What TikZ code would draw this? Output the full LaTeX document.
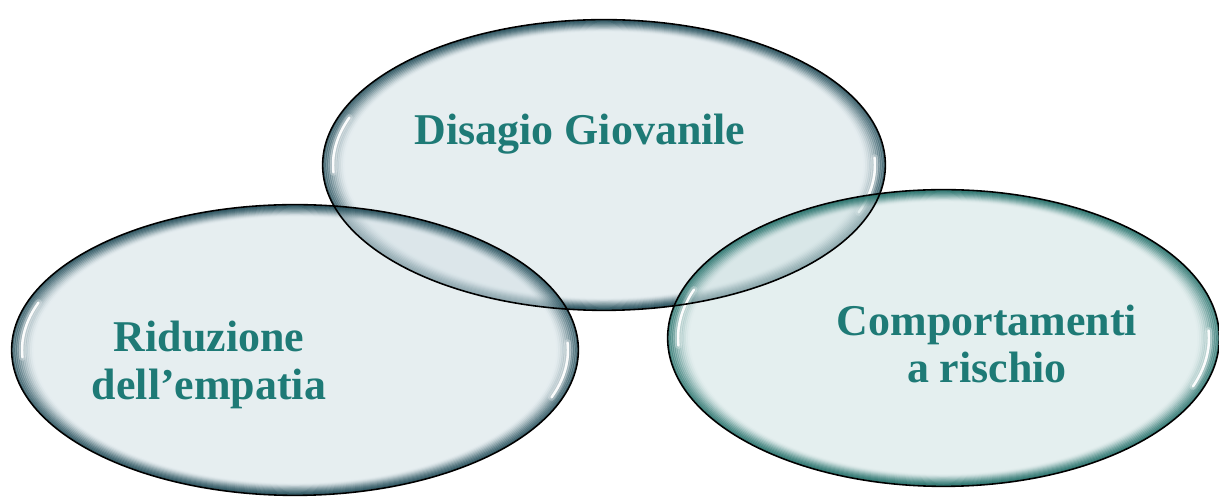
\documentclass[tikz,border=0pt]{standalone}
\usepackage{fontspec}
\setmainfont{Liberation Serif}
\usetikzlibrary{shapes.geometric,calc}
\definecolor{slate}{RGB}{36,78,90}
\definecolor{glassteal}{RGB}{36,112,106}
\definecolor{glassfill}{RGB}{212,225,230}
\definecolor{glassfillgreen}{RGB}{208,227,227}
\definecolor{labelteal}{RGB}{30,122,118}

\begin{document}
\begin{tikzpicture}[
  bubble/.style={ellipse,fill=glassfill,fill opacity=0.58,inner sep=0pt,
    path picture={
      % dark rim: wider at the ends than at top and bottom
      \foreach \i in {0,...,11}{
        \draw[#1,line width=1.7pt,draw opacity={0.62*(1-\i/12)^1.6}]
          let \p1=($(path picture bounding box.north east)-(path picture bounding box.center)$) in
          (path picture bounding box.center) ellipse [x radius=\x1-\i*1.05pt,y radius=\y1-\i*0.55pt];}
      % white glints
      \foreach \w/\o in {4pt/0.25,1.4pt/0.95}{
        \draw[white,line width=\w,draw opacity=\o,line cap=round]
          let \p1=($(path picture bounding box.north east)-(path picture bounding box.center)$) in
          ($(path picture bounding box.center)+(160:{\x1-0.2cm} and {\y1-0.13cm})$)
          arc[start angle=160,end angle=183,x radius=\x1-0.2cm,y radius=\y1-0.13cm]
          ($(path picture bounding box.center)+(-20:{\x1-0.2cm} and {\y1-0.13cm})$)
          arc[start angle=-20,end angle=3,x radius=\x1-0.2cm,y radius=\y1-0.13cm];}
    }},
  bubble/.default=slate,
  rimline/.style={draw=black,line width=0.9pt},
  caption/.style={text=labelteal,font=\bfseries\fontsize{25}{27}\selectfont,align=center,inner sep=0pt}]
  \useasboundingbox (0,0) rectangle (24.38,9.96);
  % the three bubbles
  \node[bubble,minimum width=11.24cm,minimum height=5.8cm] (disagio) at (12.08,6.66) {};
  \node[bubble,minimum width=11.32cm,minimum height=5.8cm] (empatia) at (5.9,2.96) {};
  \node[bubble=glassteal,fill=glassfillgreen,minimum width=11.02cm,minimum height=5.92cm] (rischio) at (18.87,3.2) {};
  % outlines on top, so they show through the overlaps
  \foreach \b in {disagio,empatia,rischio}
    \draw[rimline] let \p1=($(\b.east)-(\b.center)$), \p2=($(\b.north)-(\b.center)$) in
      (\b.center) ellipse [x radius=\x1,y radius=\y2];
  % captions
  \node[caption,anchor=base] (disagio-t) at (11.6,7.06) {Disagio Giovanile};
  \node[caption] (empatia-t) at (4.18,2.66) {Riduzione\\dell’empatia};
  \node[caption] (rischio-t) at (19.74,3.08) {Comportamenti\\a rischio};
\end{tikzpicture}
\end{document}
